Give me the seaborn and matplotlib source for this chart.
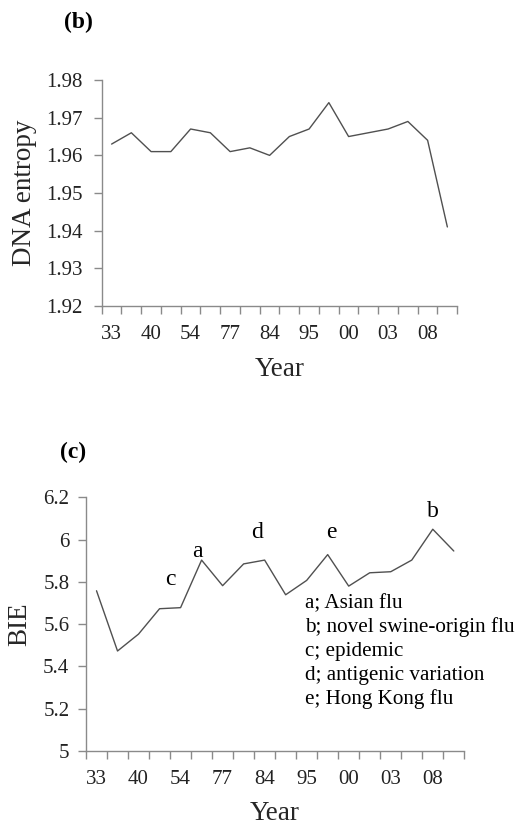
import numpy as np
import pandas as pd
import matplotlib
matplotlib.use("Agg")
import matplotlib.pyplot as plt
import seaborn as sns

# ---- data ----
year_labels = ["33", "", "40", "", "54", "", "77", "", "84", "", "95", "", "00", "", "03", "", "08", ""]
dna_entropy = [1.963, 1.966, 1.961, 1.961, 1.967, 1.966, 1.961, 1.962, 1.960,
               1.965, 1.967, 1.974, 1.965, 1.966, 1.967, 1.969, 1.964, 1.941]
bie = [5.758, 5.473, 5.553, 5.673, 5.678, 5.903, 5.782, 5.885, 5.903,
       5.739, 5.807, 5.929, 5.780, 5.843, 5.848, 5.903, 6.049, 5.946]
event_letters = ["c", "a", "d", "e", "b"]
event_x = [3.5, 4.78, 7.63, 11.16, 16.01]
event_y = [5.785, 5.919, 6.007, 6.006, 6.108]
legend_lines = ["a; Asian flu", "b; novel swine-origin flu", "c; epidemic",
                "d; antigenic variation", "e; Hong Kong flu"]

sns.set_style("white")
plt.rcParams["font.family"] = ["Liberation Serif", "DejaVu Serif"]
plt.rcParams["text.color"] = "black"

LINE = "#505050"
SPINE = "#8a8a8a"

fig = plt.figure(figsize=(5.19, 8.25), dpi=100)
ax1 = fig.add_axes([0.196, 0.629, 0.685, 0.274])
ax2 = fig.add_axes([0.1657, 0.0897, 0.7289, 0.3075])

idx = np.arange(len(year_labels))
df1 = pd.DataFrame({"i": idx, "v": dna_entropy})
df2 = pd.DataFrame({"i": idx, "v": bie})

sns.lineplot(data=df1, x="i", y="v", ax=ax1, color=LINE, linewidth=1.0)
sns.lineplot(data=df2, x="i", y="v", ax=ax2, color=LINE, linewidth=1.0)


def style(ax, ylim, yticks, fmt, ylabel, ylab_x, xlab_y, ypad):
    ax.set_xlim(-0.5, len(year_labels) - 0.5)
    ax.set_ylim(*ylim)
    for s in ["top", "right"]:
        ax.spines[s].set_visible(False)
    for s in ["left", "bottom"]:
        ax.spines[s].set_color(SPINE)
        ax.spines[s].set_linewidth(1.0)
    ax.set_xticks(idx)
    ax.set_xticklabels(year_labels)
    ax.set_xticks(np.arange(-0.5, len(year_labels)), minor=True)
    ax.tick_params(axis="x", which="major", length=0, pad=13.5, labelsize=15, labelcolor="#222222")
    ax.tick_params(axis="x", which="minor", length=5.5, width=1.0, color=SPINE, direction="out", bottom=True)
    ax.set_yticks(yticks)
    ax.set_yticklabels([fmt(v) for v in yticks])
    ax.tick_params(axis="y", which="major", length=5.5, width=1.0, color=SPINE, direction="out",
                   pad=ypad, labelsize=15, labelcolor="#222222", left=True)
    ax.set_xlabel("Year", fontsize=19.5)
    ax.set_ylabel(ylabel, fontsize=19.5)
    ax.xaxis.set_label_coords(0.5, xlab_y)
    ax.yaxis.set_label_coords(ylab_x, 0.5)
    ax.grid(False)


style(ax1, (1.92, 1.98), np.round(np.arange(1.92, 1.9801, 0.01), 2), lambda v: f"{v:.2f}",
      "DNA entropy", -0.182, -0.225, 8.0)
style(ax2, (5.0, 6.2), np.round(np.arange(5.0, 6.2001, 0.2), 1), lambda v: f"{v:g}",
      "BIE", -0.143, -0.198, 6.5)

for lt, lx, ly in zip(event_letters, event_x, event_y):
    ax2.text(lx, ly, lt, fontsize=17, ha="center", va="baseline")

for k, line in enumerate(legend_lines):
    ax2.text(0.579, 0.5625 - k * 0.0946, line, transform=ax2.transAxes,
             fontsize=15.2, ha="left", va="baseline")

fig.text(78 / 519, 1 - 22 / 825, "(b)", fontsize=17, fontweight="bold", ha="center", va="center")
fig.text(73 / 519, 1 - 452 / 825, "(c)", fontsize=17, fontweight="bold", ha="center", va="center")

fig.savefig("out.png", dpi=100, facecolor="white")
